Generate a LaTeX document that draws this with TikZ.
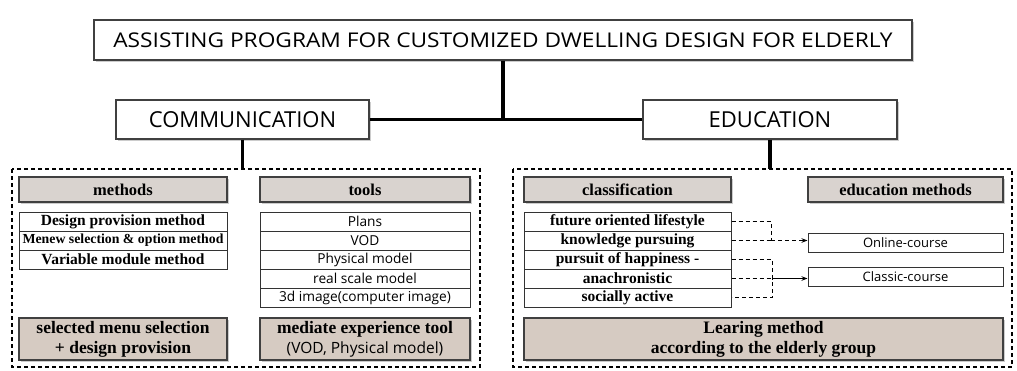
\documentclass[tikz,border=0pt]{standalone}
\usepackage{fontspec}
\setmainfont{Liberation Serif}
\newfontfamily\sansfont{Open Sans}
\newfontfamily\titlefont[FakeStretch=1.12]{Open Sans}
\usetikzlibrary{positioning,shadows,arrows.meta}
\definecolor{headfill}{RGB}{217,211,207}
\definecolor{footfill}{RGB}{214,203,194}

\begin{document}
\begin{tikzpicture}[x=1pt, y=-1pt,
    shade/.style={drop shadow={shadow xshift=1.5pt, shadow yshift=-1.5pt, fill=black!40}},
    mainbox/.style={draw=black!75, line width=1.3pt, fill=white, shade, inner sep=0pt},
    headbox/.style={draw=black!75, line width=1.2pt, fill=headfill, shade, inner sep=0pt,
        minimum height=25pt, font=\fontsize{16.5}{18}\selectfont\bfseries},
    rowbox/.style={draw=black!80, line width=1pt, fill=white, inner sep=0pt,
        minimum height=19pt, font=\fontsize{15.5}{17}\selectfont\bfseries},
    toolrow/.style={rowbox, font=\sansfont\fontsize{13.7}{15}\selectfont, minimum width=210pt},
    footbox/.style={draw=black!75, line width=1.2pt, fill=footfill, shade, inner sep=0pt,
        minimum height=42pt, align=center, font=\fontsize{17.5}{20}\selectfont\bfseries},
    group/.style={draw, line width=1.3pt, dash pattern=on 4pt off 3pt},
    link/.style={line width=3.2pt},
    flow/.style={line width=1pt, dash pattern=on 4pt off 3pt}]
\useasboundingbox (0,0) rectangle (1017,370);

% top of the tree
\node[mainbox, minimum width=818pt, minimum height=40pt,
    font=\titlefont\fontsize{20.3}{22}\selectfont] (title) at (503,40)
    {ASSISTING PROGRAM FOR CUSTOMIZED DWELLING DESIGN FOR ELDERLY};
\node[mainbox, minimum width=253pt, minimum height=39pt,
    font=\sansfont\fontsize{22}{24}\selectfont] (comm) at (242.5,119.5) {COMMUNICATION};
\node[mainbox, minimum width=254pt, minimum height=39pt,
    font=\sansfont\fontsize{22}{24}\selectfont] (edu) at (770,119.5) {EDUCATION};

% dashed groups
\draw[group] (12,169) rectangle (480,367);
\draw[group] (513,169) rectangle (1012,367);
\coordinate (commgrp) at (242.5,169);
\coordinate (edugrp) at (770,169);

\draw[link] (title.south) -- (title.south |- comm.east);
\draw[link] (comm) -- (edu);
\draw[link] (comm.south) -- (commgrp);
\draw[link] (edu.south) -- (edugrp);

% communication side
\node[headbox, minimum width=208pt] (methods) at (123,189.5) {methods};
\node[headbox, minimum width=210pt] (tools) at (365,189.5) {tools};

\node[rowbox, minimum width=208pt] (meth1) at (123,221.5) {Design provision method};
\node[rowbox, minimum width=208pt, font=\fontsize{13.8}{15}\selectfont\bfseries] (meth2)
    at (123,240.5) {Menew selection \& option method};
\node[rowbox, minimum width=208pt] (meth3) at (123,259.5) {Variable module method};

\foreach \t [count=\i] in {Plans, VOD, Physical model, real scale model, 3d image(computer image)}
    \node[toolrow] (tool\i) at (365,202.5+19*\i) {\t};

\node[footbox, minimum width=208pt] (menu) at (123,339)
    {selected menu selection\\+ design provision};
\node[footbox, minimum width=210pt] (mediate) at (365,339)
    {mediate experience tool\\{\sansfont\mdseries\fontsize{15.5}{20}\selectfont(VOD, Physical model)}};

% education side
\node[headbox, minimum width=207pt] (classif) at (627.5,189.5) {classification};
\node[headbox, minimum width=195pt] (edumeth) at (905.5,189.5) {education methods};

\foreach \t [count=\i] in {future oriented lifestyle, knowledge pursuing,
    pursuit of happiness -, anachronistic, socially active}
    \node[rowbox, minimum width=207pt] (class\i) at (627.5,202.5+19*\i) {\t};

\node[rowbox, minimum width=195pt, font=\sansfont\fontsize{13}{15}\selectfont] (online)
    at (905.5,243) {Online-course};
\node[rowbox, minimum width=195pt, font=\sansfont\fontsize{13}{15}\selectfont] (classic)
    at (905.5,277) {Classic-course};

\node[footbox, minimum width=479pt] (learn) at (763.5,339)
    {Learing method\\according to the elderly group};

% classification to courses
\coordinate (join1) at (771,240.5);
\coordinate (join2) at (772,278.5);
\draw[flow] (class1.east) -| (join1);
\draw[flow] (class2.east) -- (join1);
\draw[flow, -{Stealth[length=6pt]}] (join1) -- (join1 -| online.west);
\draw[flow] (class3.east) -| (join2) |- (class5.east);
\draw[flow] (class4.east) -- (join2);
\draw[line width=1pt, -{Stealth[length=6pt]}] (join2) -- (join2 -| classic.west);
\end{tikzpicture}
\end{document}
